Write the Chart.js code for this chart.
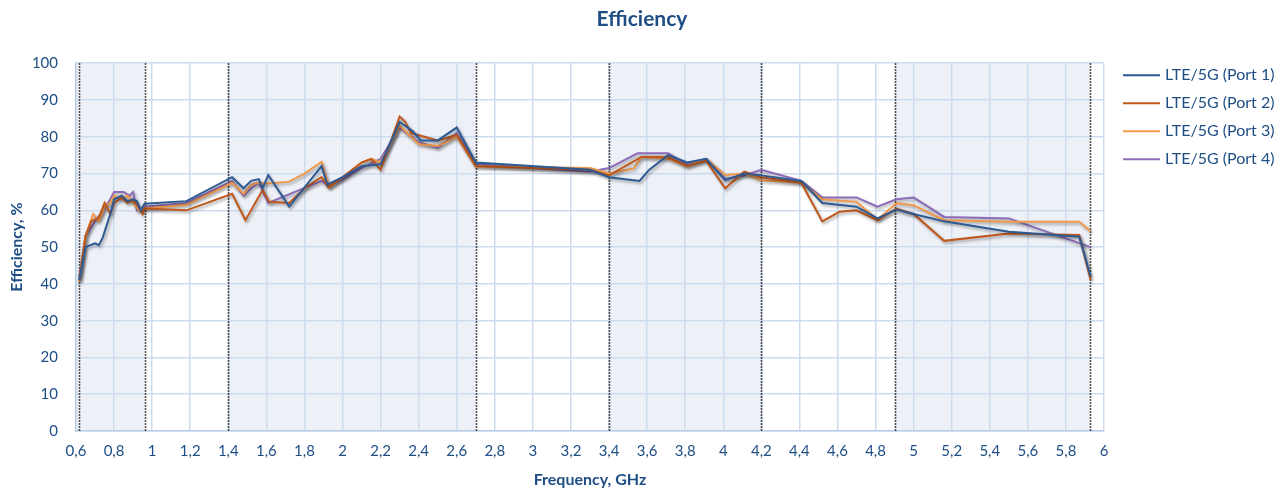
<!DOCTYPE html>
<html>
<head>
<meta charset="utf-8">
<script src="https://cdn.jsdelivr.net/npm/chart.js@4.4.1/dist/chart.umd.min.js"></script>
<style>
  html, body { margin: 0; padding: 0; background: #ffffff; }
  #wrap { width: 1284px; height: 491px; }
</style>
</head>
<body>
<div id="wrap"><canvas id="c" width="1284" height="491"></canvas></div>
<script>
// ---- Data ----
const seriesNames = ['LTE/5G (Port 1)', 'LTE/5G (Port 2)', 'LTE/5G (Port 3)', 'LTE/5G (Port 4)'];

const freq1 = [0.617,0.65,0.70,0.72,0.74,0.78,0.80,0.84,0.87,0.90,0.92,0.94,0.96,1.18,1.42,1.48,1.52,1.56,1.58,1.61,1.72,1.89,1.92,2.0,2.1,2.2,2.3,2.37,2.41,2.5,2.6,2.7,3.3,3.4,3.56,3.61,3.71,3.81,3.91,4.01,4.11,4.2,4.41,4.52,4.7,4.81,4.91,5.0,5.16,5.5,5.87,5.93];
const eff1  = [41,50,51,50.5,52.5,59,63,64,62.5,63,62.5,60,61.8,62.5,69,66,68,68.5,66,69.6,61,72,67,69,72,72.5,84,81.5,79,79,82.5,73,71,69,68,71,75,73,74,68.2,70,69.5,68,62,61,57.8,60.2,59,57,54.2,52.8,42];

const freq2 = [0.617,0.65,0.68,0.72,0.75,0.78,0.80,0.84,0.87,0.90,0.93,0.95,0.96,1.18,1.42,1.49,1.58,1.615,1.72,1.8,1.89,1.925,2.0,2.1,2.15,2.2,2.3,2.33,2.36,2.5,2.6,2.7,3.3,3.4,3.57,3.71,3.81,3.91,4.01,4.11,4.2,4.41,4.52,4.61,4.7,4.81,4.91,5.0,5.16,5.5,5.87,5.93];
const eff2  = [41,53,57,58,62,59,62,63.5,62,63,61,59,60.5,60,64.5,57.3,65.5,62.3,62,66,69,66.4,69,73,74,71,85.5,84,81,79,80.5,72,71,69.5,74.5,74.5,72,73.5,66,70.5,69,67.5,57,59.6,60,57.3,60.5,59,51.7,53.7,53.3,41];

const freq3 = [0.617,0.65,0.69,0.72,0.75,0.78,0.80,0.84,0.87,0.90,0.93,0.96,1.18,1.42,1.48,1.52,1.56,1.61,1.72,1.8,1.89,1.93,2.0,2.1,2.15,2.2,2.3,2.4,2.5,2.6,2.7,3.3,3.4,3.53,3.57,3.71,3.81,3.91,4.01,4.11,4.2,4.41,4.52,4.7,4.81,4.91,5.0,5.16,5.5,5.87,5.93];
const eff3  = [40.5,53,59,57,61,62,64,63,64,62,60,60.5,61.5,67.5,64.5,67,67.5,67.3,67.8,70,73.2,66.2,69,73,74,73,83,78,77.5,80,72,71.5,70,71.4,74.5,74,72,74,69.6,70,68.2,67.5,63,62.3,57.5,61.9,61.4,57.3,56.9,56.9,54.3];

const freq4 = [0.617,0.65,0.70,0.75,0.78,0.80,0.85,0.88,0.90,0.92,0.96,1.18,1.42,1.48,1.52,1.56,1.61,1.89,1.93,2.0,2.1,2.2,2.3,2.4,2.5,2.6,2.7,3.3,3.4,3.55,3.71,3.81,3.91,4.01,4.11,4.2,4.41,4.52,4.61,4.7,4.81,4.91,5.0,5.16,5.5,5.93];
const eff4  = [42,53,57,60.5,63,65,65,64,65,60,61,62,68,64,66,67.5,62,68,66.5,68.5,71.5,74,82.5,78.5,77,81,72.5,70.5,71.5,75.5,75.5,72.5,74,68.5,69.5,71,68,63.5,63.5,63.5,61,63,63.5,58.2,57.8,50];

const xTicks = [0.6,0.8,1,1.2,1.4,1.6,1.8,2,2.2,2.4,2.6,2.8,3,3.2,3.4,3.6,3.8,4,4.2,4.4,4.6,4.8,5,5.2,5.4,5.6,5.8,6];
const yTicks = [0,5,10,15,20,25,30,35,40,45,50,55,60,65,70,75,80,85,90,95,100];

// shaded frequency bands [start, end] and dotted band edges (GHz)
const bandStart = [0.6, 1.4, 3.4, 4.9];
const bandEnd   = [0.96, 2.7, 4.2, 5.925];
const bandEdges = [0.617, 0.96, 1.4, 2.7, 3.4, 4.2, 4.9, 5.925];

// ---- Styles ----
const colors = ['#2d5a92', '#c0581c', '#f29a4c', '#8c6cb9'];
const textBlue = '#1f4e85';
const FONT = 'Lato, "Open Sans", sans-serif';

const freqs = [freq1, freq2, freq3, freq4];
const effs = [eff1, eff2, eff3, eff4];

const datasets = seriesNames.map((name, i) => ({
  label: name,
  data: freqs[i].map((f, k) => ({ x: f, y: effs[i][k] })),
  borderColor: colors[i],
  backgroundColor: colors[i],
  borderWidth: 2,
  pointRadius: 0,
  tension: 0,
  fill: false,
  yAxisID: 'y'
}));

const bandsPlugin = {
  id: 'bands',
  beforeDraw(chart) {
    const { ctx, chartArea, scales } = chart;
    const x = scales.x;
    ctx.save();
    ctx.fillStyle = '#edf0f6';
    for (let i = 0; i < bandStart.length; i++) {
      const x0 = x.getPixelForValue(bandStart[i]);
      const x1 = x.getPixelForValue(bandEnd[i]);
      ctx.fillRect(x0, chartArea.top, x1 - x0, chartArea.bottom - chartArea.top);
    }
    ctx.restore();
  },
  beforeDatasetsDraw(chart) {
    const { ctx, chartArea, scales } = chart;
    const x = scales.x;
    ctx.save();
    ctx.strokeStyle = '#1a1a1a';
    ctx.lineWidth = 1.6;
    ctx.setLineDash([1.5, 1.5]);
    bandEdges.forEach(f => {
      const px = Math.round(x.getPixelForValue(f)) + 0.5;
      ctx.beginPath();
      ctx.moveTo(px, chartArea.top);
      ctx.lineTo(px, chartArea.bottom);
      ctx.stroke();
    });
    ctx.restore();
    ctx.save();
    ctx.shadowColor = 'rgba(0,0,0,0.35)';
    ctx.shadowBlur = 3;
    ctx.shadowOffsetX = 1.5;
    ctx.shadowOffsetY = 2;
  },
  afterDatasetsDraw(chart) {
    chart.ctx.restore();
  },
  afterDraw(chart) {
    const { ctx, chartArea } = chart;
    const lx = chartArea.right + 19;
    const ly = chartArea.top + 12;
    ctx.save();
    ctx.font = '16px ' + FONT;
    ctx.textBaseline = 'middle';
    chart.data.datasets.forEach((ds, i) => {
      const y = ly + i * 28;
      ctx.strokeStyle = ds.borderColor;
      ctx.lineWidth = 2;
      ctx.beginPath();
      ctx.moveTo(lx, y);
      ctx.lineTo(lx + 37, y);
      ctx.stroke();
      ctx.fillStyle = textBlue;
      ctx.fillText(ds.label, lx + 42, y);
    });
    ctx.restore();
  }
};

new Chart(document.getElementById('c'), {
  type: 'line',
  data: { datasets },
  options: {
    responsive: false,
    animation: false,
    layout: { padding: { top: 7, right: 0, bottom: 0, left: 0 } },
    plugins: {
      legend: { display: false },
      tooltip: { enabled: false },
      title: {
        display: true,
        text: 'Efficiency',
        color: textBlue,
        font: { family: FONT, size: 21, weight: 'bold' },
        padding: { top: 0, bottom: 31 }
      }
    },
    scales: {
      x: {
        type: 'linear',
        min: 0.6,
        max: 6,
        afterBuildTicks: s => { s.ticks = xTicks.map(v => ({ value: v })); },
        afterFit: s => { s.height = 60; },
        ticks: {
          autoSkip: false,
          maxRotation: 0,
          padding: 11,
          color: textBlue,
          font: { family: FONT, size: 15 },
          callback: v => String(Math.round(v * 10) / 10).replace('.', ',')
        },
        grid: { color: '#cddbef', lineWidth: 1.5, drawTicks: false },
        border: { color: '#b9cde8', width: 1.5 },
        title: {
          display: true,
          text: 'Frequency, GHz',
          color: textBlue,
          font: { family: FONT, size: 16, weight: 'bold' },
          padding: { top: 9, bottom: 2 }
        }
      },
      y: {
        type: 'linear',
        position: 'left',
        min: 0,
        max: 100,
        afterBuildTicks: s => { s.ticks = yTicks.map(v => ({ value: v })); },
        afterFit: s => { s.width = 76; },
        ticks: {
          padding: 18,
          color: textBlue,
          font: { family: FONT, size: 15 },
          callback: v => (v % 10 === 0 ? String(v) : '')
        },
        grid: {
          color: ctx => (ctx.tick && ctx.tick.value % 10 === 0 ? '#cddbef' : '#dbe5f3'),
          lineWidth: 1.5,
          drawTicks: false
        },
        border: { color: '#b9cde8', width: 1.5 },
        title: {
          display: true,
          text: 'Efficiency, %',
          color: textBlue,
          font: { family: FONT, size: 16, weight: 'bold' },
          padding: { top: 7, bottom: 0 }
        }
      },
      legendSpace: {
        type: 'linear',
        position: 'right',
        min: 0,
        max: 100,
        afterFit: s => { s.width = 180; },
        ticks: { display: false },
        grid: { display: false, drawTicks: false },
        border: { display: false },
        title: { display: false }
      }
    }
  },
  plugins: [bandsPlugin]
});
</script>
</body>
</html>
